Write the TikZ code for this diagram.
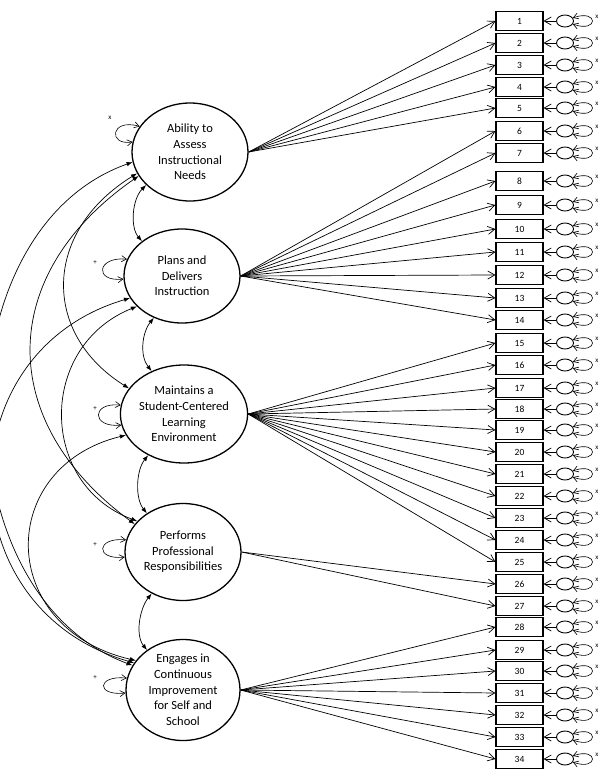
\documentclass[tikz,border=0pt]{standalone}
\usepackage{fontspec}
\setmainfont{Carlito}
\usetikzlibrary{shapes.geometric,arrows.meta}
\begin{document}
\begin{tikzpicture}[x=1pt,y=-1pt,
  factornode/.style={draw,ellipse,line width=1.3pt,inner sep=0pt,align=center,font=\fontsize{12.5}{15.7}\selectfont},
  itembox/.style={draw,rectangle,line width=1.1pt,minimum width=47pt,minimum height=19pt,inner sep=0pt,font=\fontsize{9.5}{10}\selectfont},
  errcirc/.style={draw,ellipse,line width=0.9pt,minimum width=17pt,minimum height=12pt,inner sep=0pt},
  loadarrow/.style={line width=0.7pt,-{Straight Barb[length=7pt,width=8pt]}},
  covarc/.style={line width=0.7pt,{Latex[length=6pt,width=4.5pt]}-{Latex[length=6pt,width=4.5pt]}},
  varloop/.style={line width=0.6pt,{Straight Barb[length=5pt,width=6pt]}-{Straight Barb[length=5pt,width=6pt]}},
  smalllab/.style={font=\fontsize{7}{8}\selectfont,inner sep=0pt}
]
\useasboundingbox (0,0) rectangle (600,782);

% factors
\node[factornode,minimum width=116pt,minimum height=98pt] (F1) at (190,152) {Ability to\\Assess\\Instructional\\Needs};
\node[factornode,minimum width=116pt,minimum height=94pt] (F2) at (182,276) {Plans and\\Delivers\\Instruction};
\node[factornode,minimum width=112pt,minimum height=98pt] (F3) at (184,414) {Maintains a\\Student-Centered\\Learning\\Environment};
\node[factornode,minimum width=116pt,minimum height=97pt] (F4) at (183,552) {Performs\\Professional\\Responsibilities};
\node[factornode,minimum width=114pt,minimum height=97pt] (F5) at (183,690) {Engages in\\Continuous\\Improvement\\for Self and\\School};

% items with error terms
\foreach \i/\y in {1/21,2/43,3/65,4/87,5/108,6/131,7/153,8/181,9/205,10/229,11/252,12/275,13/298,14/320,15/343,16/365,17/388,18/409,19/430,20/452,21/474,22/496,23/518,24/540,25/562,26/584,27/606,28/627,29/650,30/671,31/693,32/715,33/737,34/759} {
  \node[itembox] (b\i) at (519.5,\y) {\raisebox{-2.5pt}{\i}};
  \node[errcirc] (e\i) at (565,\y) {};
  \draw[loadarrow] (e\i.west) -- (b\i.east);
  \draw[varloop] (e\i.22) .. controls +(26,-9) and +(26,9) .. (e\i.-22);
  \node[smalllab] (x\i) at (597,\y-4) {x};
}

% loadings
\foreach \i in {1,...,5} \draw[loadarrow] (F1.east) -- (b\i.west);
\foreach \i in {6,...,14} \draw[loadarrow] (F2.east) -- (b\i.west);
\foreach \i in {15,...,25} \draw[loadarrow] (F3.east) -- (b\i.west);
\foreach \i in {26,27} \draw[loadarrow] (F4.east) -- (b\i.west);
\foreach \i in {28,...,34} \draw[loadarrow] (F5.east) -- (b\i.west);

% adjacent covariances
\draw[covarc] (F1.217) .. controls +(-14,14) and +(-12,-14) .. (F2.139);
\draw[covarc] (F2.236) .. controls +(-12,15) and +(-12,-15) .. (F3.127);
\draw[covarc] (F3.229) .. controls +(-12,15) and +(-12,-15) .. (F4.133);
\draw[covarc] (F4.233) .. controls +(-12,15) and +(-12,-15) .. (F5.132);

% long covariances
\draw[covarc] (F1.190) .. controls (-60,230) and (-60,594) .. (F5.154);
\draw[covarc] (F2.203) .. controls (-54,352) and (-54,609) .. (F5.151);
\draw[covarc] (F1.205) .. controls (-4,275) and (-4,422) .. (F4.150);
\draw[covarc] (F1.202) .. controls (42,232) and (42,334) .. (F3.155);
\draw[covarc] (F2.214) .. controls (38,346) and (38,484) .. (F4.146);
\draw[covarc] (F3.200) .. controls (-4,467) and (-4,628) .. (F5.148);

% factor variances
\draw[varloop] (F1.153) .. controls (110,118) and (108,146) .. (F1.170);
\node[smalllab] (v1) at (110,118) {x};
\draw[varloop] (F2.163) .. controls +(-30,-3) and +(-30,3) .. (F2.183);
\node[smalllab] (v2) at (95,263) {+};
\draw[varloop] (F3.172) .. controls +(-30,-3) and +(-30,3) .. (F3.190);
\node[smalllab] (v3) at (95,409) {+};
\draw[varloop] (F4.168) .. controls +(-30,-3) and +(-30,3) .. (F4.185);
\node[smalllab] (v4) at (95,545) {+};
\draw[varloop] (F5.168) .. controls +(-30,-3) and +(-30,3) .. (F5.183);
\node[smalllab] (v5) at (95,678) {+};
\end{tikzpicture}
\end{document}
